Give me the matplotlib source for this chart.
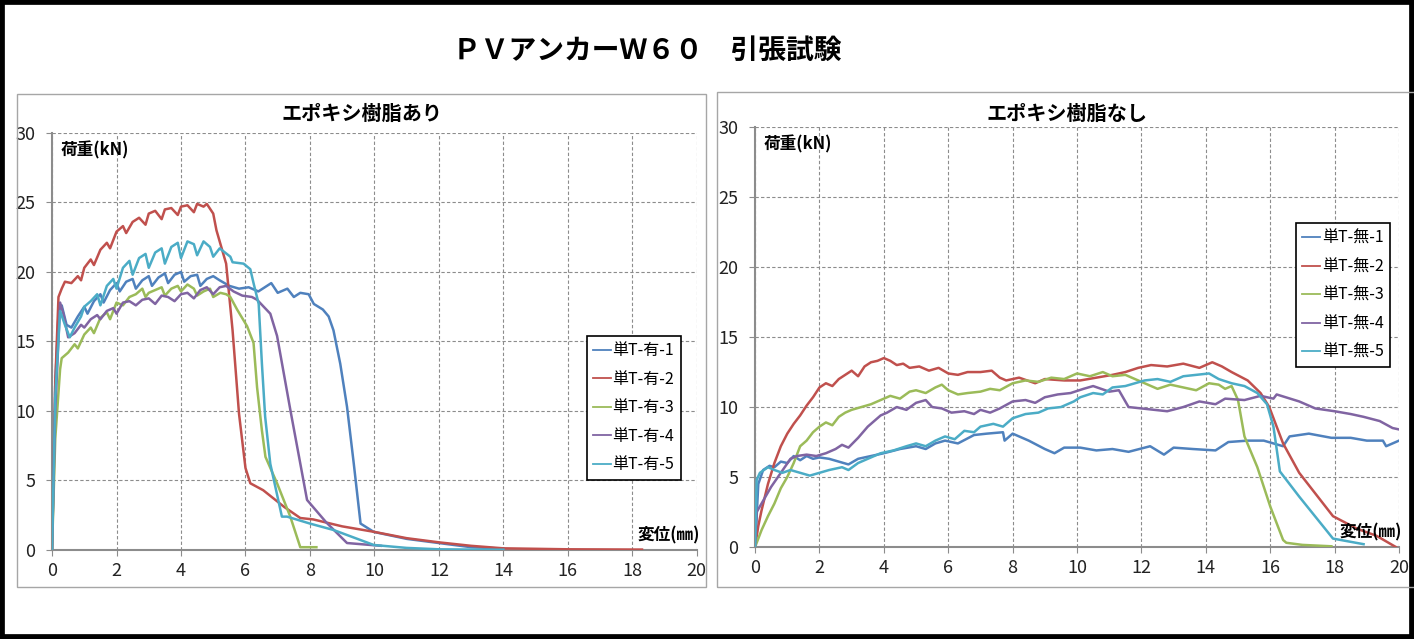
import matplotlib
matplotlib.use("Agg")
import matplotlib.pyplot as plt
from matplotlib.patches import Rectangle

plt.rcParams['font.family'] = ['Noto Sans CJK JP', 'DejaVu Sans']

# ---- data: エポキシ樹脂あり (with epoxy) ----
ari1_x = [0, 0.1, 0.2, 0.3, 0.45, 0.6, 0.8, 1.0, 1.1, 1.3, 1.5, 1.6, 1.8, 2.0, 2.1, 2.3, 2.5, 2.6, 2.8, 3.0,
          3.1, 3.3, 3.5, 3.6, 3.8, 4.0, 4.1, 4.3, 4.5, 4.6, 4.8, 5.0, 5.2, 5.5, 5.8, 6.1, 6.4, 6.8, 7.0, 7.3,
          7.5, 7.7, 7.96, 8.12, 8.4, 8.58, 8.73, 8.94, 9.15, 9.36, 9.57, 9.98, 11.0, 12.0, 13.0, 14.0]
ari1_y = [0, 12.0, 17.0, 17.6, 16.2, 16.0, 16.8, 17.5, 17.0, 17.9, 18.4, 17.8, 18.7, 19.2, 18.6, 19.3, 19.5, 18.8, 19.4, 19.7,
          19.0, 19.6, 19.9, 19.2, 19.8, 20.0, 19.3, 19.7, 19.8, 19.0, 19.5, 19.7, 19.4, 19.0, 18.8, 18.9, 18.6, 19.2, 18.5, 18.8,
          18.2, 18.5, 18.4, 17.7, 17.3, 16.8, 15.8, 13.4, 10.3, 6.2, 1.9, 1.3, 0.8, 0.5, 0.2, 0.1]

ari2_x = [0, 0.1, 0.2, 0.3, 0.4, 0.6, 0.8, 0.9, 1.0, 1.2, 1.3, 1.5, 1.7, 1.8, 2.0, 2.2, 2.3, 2.5, 2.7, 2.9,
          3.0, 3.2, 3.4, 3.5, 3.7, 3.9, 4.0, 4.2, 4.4, 4.5, 4.7, 4.8, 5.0, 5.1, 5.4, 5.6, 5.8, 6.0, 6.15, 6.55,
          7.2, 7.7, 8.1, 9.0, 10.0, 11.0, 12.0, 13.0, 14.0, 16.0, 18.3]
ari2_y = [0, 12.0, 18.2, 18.8, 19.3, 19.2, 19.7, 19.4, 20.3, 20.9, 20.5, 21.6, 22.1, 21.7, 22.9, 23.3, 22.8, 23.6, 23.9, 23.4,
          24.2, 24.4, 23.8, 24.5, 24.6, 24.1, 24.7, 24.8, 24.3, 24.9, 24.7, 24.9, 24.2, 23.0, 20.6, 15.8, 9.8, 5.9, 4.8, 4.3,
          3.1, 2.3, 2.2, 1.7, 1.3, 0.85, 0.55, 0.3, 0.12, 0.05, 0.03]

ari3_x = [0, 0.1, 0.25, 0.3, 0.5, 0.7, 0.8, 1.0, 1.2, 1.3, 1.5, 1.7, 1.8, 2.0, 2.2, 2.4, 2.6, 2.8, 2.9, 3.0,
          3.2, 3.4, 3.5, 3.7, 3.9, 4.0, 4.2, 4.4, 4.5, 4.7, 4.9, 5.0, 5.22, 5.4, 5.53, 5.74, 6.05, 6.25, 6.36, 6.51,
          6.62, 6.98, 7.39, 7.7, 8.2]
ari3_y = [0, 8.0, 13.0, 13.8, 14.2, 14.8, 14.5, 15.5, 16.0, 15.6, 16.7, 17.1, 16.6, 17.8, 17.6, 18.2, 18.4, 18.8, 18.2, 18.5,
          18.7, 18.9, 18.3, 18.8, 19.0, 18.6, 19.1, 18.8, 18.3, 18.6, 18.8, 18.2, 18.5, 18.4, 18.2, 17.3, 16.1, 14.9, 11.7, 8.6,
          6.7, 4.8, 2.4, 0.2, 0.2]

ari4_x = [0, 0.1, 0.25, 0.35, 0.5, 0.7, 0.9, 1.0, 1.2, 1.4, 1.5, 1.7, 1.9, 2.0, 2.2, 2.4, 2.6, 2.8, 3.0, 3.2,
          3.4, 3.6, 3.8, 4.0, 4.2, 4.4, 4.6, 4.8, 5.0, 5.2, 5.4, 5.63, 5.9, 6.2, 6.36, 6.77, 6.98, 7.39, 7.91, 8.5,
          9.15, 10.2]
ari4_y = [0, 10.0, 17.8, 17.0, 15.3, 15.6, 16.2, 16.0, 16.6, 16.9, 16.6, 17.2, 17.4, 17.0, 17.8, 17.9, 17.6, 18.0, 18.1, 17.7,
          18.3, 18.2, 17.9, 18.4, 18.5, 18.1, 18.7, 18.9, 18.4, 18.9, 19.0, 18.6, 18.3, 18.2, 18.0, 17.0, 15.4, 10.1, 3.6, 2.0,
          0.5, 0.3]

ari5_x = [0, 0.1, 0.25, 0.4, 0.55, 0.7, 0.9, 1.0, 1.2, 1.4, 1.5, 1.7, 1.9, 2.0, 2.2, 2.4, 2.5, 2.7, 2.9, 3.0,
          3.2, 3.4, 3.5, 3.7, 3.9, 4.0, 4.2, 4.4, 4.5, 4.7, 4.9, 5.0, 5.2, 5.53, 5.6, 5.94, 6.15, 6.25, 6.41, 6.51,
          6.61, 6.77, 7.13, 7.29, 8.0, 8.73, 9.98, 11.0, 12.0, 13.0, 14.0]
ari5_y = [0, 11.0, 17.2, 16.2, 15.3, 16.0, 16.8, 17.5, 17.9, 18.4, 17.6, 19.0, 19.5, 18.8, 20.3, 20.8, 19.8, 21.0, 21.3, 20.3,
          21.4, 21.7, 20.6, 21.8, 22.1, 21.0, 22.2, 22.0, 21.2, 22.2, 21.8, 21.1, 21.7, 21.1, 20.7, 20.6, 20.2, 19.2, 17.7, 13.4,
          9.6, 6.2, 2.4, 2.4, 1.9, 1.44, 0.36, 0.15, 0.05, 0.03, 0.02]

# ---- data: エポキシ樹脂なし (without epoxy) ----
nashi1_x = [0, 0.1, 0.25, 0.45, 0.6, 0.8, 1.0, 1.2, 1.4, 1.6, 1.8, 2.0, 2.3, 2.6, 2.9, 3.2, 3.6, 4.0, 4.5, 5.0,
            5.3, 5.6, 5.9, 6.3, 6.8, 7.2, 7.7, 7.75, 8.0, 8.5, 9.0, 9.3, 9.6, 10.1, 10.6, 11.1, 11.6, 12.27, 12.7, 13.0,
            13.6, 14.3, 14.7, 15.3, 15.8, 16.4, 16.6, 17.2, 17.9, 18.5, 19.0, 19.5, 19.6, 20.0]
nashi1_y = [0, 4.5, 5.5, 5.8, 5.7, 6.1, 6.0, 6.5, 6.2, 6.5, 6.3, 6.4, 6.3, 6.1, 5.9, 6.3, 6.5, 6.7, 7.0, 7.2,
            7.0, 7.4, 7.6, 7.4, 8.0, 8.1, 8.2, 7.6, 8.1, 7.6, 7.0, 6.7, 7.1, 7.1, 6.9, 7.0, 6.8, 7.2, 6.6, 7.1,
            7.0, 6.9, 7.5, 7.6, 7.6, 7.2, 7.9, 8.1, 7.8, 7.8, 7.6, 7.6, 7.2, 7.6]

nashi2_x = [0, 0.1, 0.2, 0.4, 0.6, 0.8, 1.0, 1.2, 1.4, 1.6, 1.8, 2.0, 2.2, 2.4, 2.6, 2.8, 3.0, 3.2, 3.4, 3.6,
            3.8, 4.0, 4.2, 4.4, 4.6, 4.8, 5.1, 5.4, 5.7, 6.0, 6.3, 6.6, 7.0, 7.35, 7.6, 7.8, 8.2, 8.7, 9.0, 9.6,
            10.1, 10.6, 11.1, 11.5, 11.9, 12.3, 12.8, 13.3, 13.8, 14.2, 14.5, 14.8, 15.3, 15.7, 15.97, 16.2, 16.4, 16.9, 17.95, 18.7,
            19.3, 19.9]
nashi2_y = [0, 1.5, 2.6, 4.5, 6.0, 7.2, 8.1, 8.8, 9.4, 10.1, 10.7, 11.4, 11.7, 11.5, 12.0, 12.3, 12.6, 12.2, 12.9, 13.2,
            13.3, 13.5, 13.3, 13.0, 13.1, 12.8, 12.9, 12.6, 12.8, 12.4, 12.3, 12.5, 12.5, 12.6, 12.1, 11.9, 12.1, 11.7, 12.0, 11.9,
            11.9, 12.1, 12.3, 12.5, 12.8, 13.0, 12.9, 13.1, 12.8, 13.2, 12.9, 12.5, 11.9, 11.0, 10.0, 8.6, 7.4, 5.3, 2.2, 1.3,
            0.8, 0.0]

nashi3_x = [0, 0.2, 0.4, 0.6, 0.8, 1.0, 1.2, 1.4, 1.6, 1.8, 2.0, 2.2, 2.4, 2.6, 2.8, 3.0, 3.3, 3.6, 3.9, 4.2,
            4.5, 4.8, 5.0, 5.3, 5.6, 5.8, 6.0, 6.3, 6.6, 7.0, 7.3, 7.6, 8.0, 8.4, 8.8, 9.2, 9.6, 10.0, 10.4, 10.8,
            11.1, 11.5, 11.8, 12.1, 12.5, 12.9, 13.3, 13.7, 14.1, 14.4, 14.6, 14.8, 15.0, 15.2, 15.6, 16.0, 16.4, 16.5, 17.0, 17.9]
nashi3_y = [0, 1.2, 2.2, 3.1, 4.2, 5.0, 6.0, 7.2, 7.6, 8.2, 8.6, 8.9, 8.7, 9.3, 9.6, 9.8, 10.0, 10.2, 10.5, 10.8,
            10.6, 11.1, 11.2, 11.0, 11.4, 11.6, 11.2, 10.9, 11.0, 11.1, 11.3, 11.2, 11.7, 11.9, 11.8, 12.1, 12.0, 12.4, 12.2, 12.5,
            12.2, 12.3, 12.0, 11.7, 11.3, 11.6, 11.4, 11.2, 11.7, 11.6, 11.3, 11.5, 10.5, 7.9, 5.7, 2.9, 0.5, 0.3, 0.15, 0.05]

nashi4_x = [0, 0.05, 0.3, 0.5, 0.8, 1.1, 1.3, 1.6, 1.9, 2.2, 2.5, 2.7, 2.9, 3.2, 3.5, 3.9, 4.1, 4.4, 4.7, 5.0,
            5.3, 5.5, 5.8, 6.1, 6.5, 6.8, 7.0, 7.3, 7.6, 8.0, 8.4, 8.7, 9.0, 9.4, 9.8, 10.2, 10.5, 11.0, 11.3, 11.6,
            12.0, 12.4, 12.8, 13.3, 13.8, 14.3, 14.6, 15.2, 15.7, 16.1, 16.2, 16.9, 17.4, 18.0, 18.5, 18.9, 19.4, 19.8, 20.0]
nashi4_y = [0, 2.5, 3.5, 4.3, 5.3, 6.3, 6.5, 6.6, 6.5, 6.7, 7.0, 7.3, 7.1, 7.8, 8.6, 9.4, 9.6, 10.0, 9.8, 10.3,
            10.5, 10.0, 9.9, 9.6, 9.7, 9.5, 9.8, 9.6, 9.9, 10.4, 10.5, 10.3, 10.7, 10.9, 11.0, 11.3, 11.5, 11.1, 11.2, 10.0,
            9.9, 9.8, 9.7, 10.0, 10.4, 10.2, 10.6, 10.5, 10.8, 10.6, 10.9, 10.4, 9.9, 9.7, 9.5, 9.3, 9.0, 8.5, 8.4]

nashi5_x = [0, 0.05, 0.15, 0.4, 0.6, 0.85, 1.1, 1.4, 1.7, 2.0, 2.3, 2.7, 2.9, 3.2, 3.5, 3.9, 4.3, 4.7, 5.0, 5.3,
            5.6, 5.9, 6.2, 6.5, 6.8, 7.0, 7.4, 7.7, 8.0, 8.4, 8.8, 9.1, 9.5, 9.9, 10.1, 10.5, 10.8, 11.1, 11.5, 11.8,
            12.1, 12.5, 12.9, 13.3, 13.7, 14.1, 14.4, 14.8, 15.2, 15.6, 15.9, 16.1, 16.3, 16.9, 17.95, 18.9]
nashi5_y = [0, 4.8, 5.3, 5.7, 5.5, 5.3, 5.5, 5.3, 5.1, 5.3, 5.5, 5.7, 5.5, 6.0, 6.3, 6.7, 6.9, 7.2, 7.4, 7.2,
            7.6, 7.9, 7.7, 8.3, 8.2, 8.6, 8.8, 8.6, 9.2, 9.5, 9.6, 9.9, 10.0, 10.4, 10.7, 11.0, 10.9, 11.4, 11.5, 11.7,
            11.9, 12.0, 11.8, 12.2, 12.3, 12.4, 12.0, 11.7, 11.5, 11.0, 10.2, 8.6, 5.4, 3.6, 0.6, 0.2]

ari_labels = ['単T-有-1', '単T-有-2', '単T-有-3', '単T-有-4', '単T-有-5']
nashi_labels = ['単T-無-1', '単T-無-2', '単T-無-3', '単T-無-4', '単T-無-5']
colors = ['#4F81BD', '#C0504D', '#9BBB59', '#8064A2', '#4BACC6']

fig = plt.figure(figsize=(14.14, 6.39), dpi=100)
fig.patch.set_facecolor('white')

# outer black frame and the two grey panel boxes
fig.add_artist(Rectangle((0, 0), 1, 1, transform=fig.transFigure, fill=False, ec='black', lw=7, clip_on=False))
fig.add_artist(Rectangle((0.012, 0.0814), 0.4873, 0.7715, transform=fig.transFigure, fill=False, ec='#a6a6a6', lw=1))
fig.add_artist(Rectangle((0.5071, 0.0814), 0.5, 0.7746, transform=fig.transFigure, fill=False, ec='#a6a6a6', lw=1))

fig.text(0.458, 0.921, 'ＰＶアンカーＷ６０　引張試験', ha='center', va='center', fontsize=20, fontweight='bold')

tick_font = ['Liberation Sans Narrow', 'Noto Sans CJK JP']


def setup(ax, series, labels, legend_anchor):
    for (x, y), lab, c in zip(series, labels, colors):
        ax.plot(x, y, color=c, lw=1.8, label=lab, zorder=3)
    ax.set_xlim(0, 20)
    ax.set_ylim(0, 30)
    ax.set_xticks(range(0, 21, 2))
    ax.set_yticks(range(0, 31, 5))
    ax.grid(True, color='#8c8c8c', ls=(0, (3, 2)), lw=0.8)
    for s in ['top', 'right']:
        ax.spines[s].set_visible(False)
    for s in ['left', 'bottom']:
        ax.spines[s].set_color('#8c8c8c')
        ax.spines[s].set_linewidth(1.5)
    ax.tick_params(axis='both', color='#8c8c8c', length=4, labelsize=13, labelcolor='#222222')
    ax.tick_params(axis='x', pad=5)
    ax.tick_params(axis='y', pad=8)
    for t in ax.get_xticklabels() + ax.get_yticklabels():
        t.set_family(tick_font)
    ax.text(0.25, 29.4, '荷重(kN)', ha='left', va='top', fontsize=12, fontweight='bold')
    ax.text(20.1, 0.4, '変位(㎜)', ha='right', va='bottom', fontsize=12, fontweight='bold')
    leg = ax.legend(loc='upper left', bbox_to_anchor=legend_anchor, borderaxespad=0, fontsize=11.5,
                    fancybox=False, edgecolor='black', framealpha=1, handlelength=1.1,
                    handletextpad=0.12, labelspacing=0.72, borderpad=0.4)
    leg.get_frame().set_linewidth(1.2)
    for line in leg.get_lines():
        line.set_linewidth(1.3)


ax1 = fig.add_axes([0.0368, 0.1393, 0.456, 0.6526])
setup(ax1, [(ari1_x, ari1_y), (ari2_x, ari2_y), (ari3_x, ari3_y), (ari4_x, ari4_y), (ari5_x, ari5_y)],
      ari_labels, (0.829, 0.513))

ax2 = fig.add_axes([0.534, 0.144, 0.4554, 0.657])
setup(ax2, [(nashi1_x, nashi1_y), (nashi2_x, nashi2_y), (nashi3_x, nashi3_y), (nashi4_x, nashi4_y), (nashi5_x, nashi5_y)],
      nashi_labels, (0.840, 0.771))

fig.text(362 / 1414, 1 - 113 / 639, 'エポキシ樹脂あり', ha='center', va='center', fontsize=14.5, fontweight='bold')
fig.text(1067 / 1414, 1 - 113 / 639, 'エポキシ樹脂なし', ha='center', va='center', fontsize=14.5, fontweight='bold')

fig.savefig('out.png', dpi=100)
